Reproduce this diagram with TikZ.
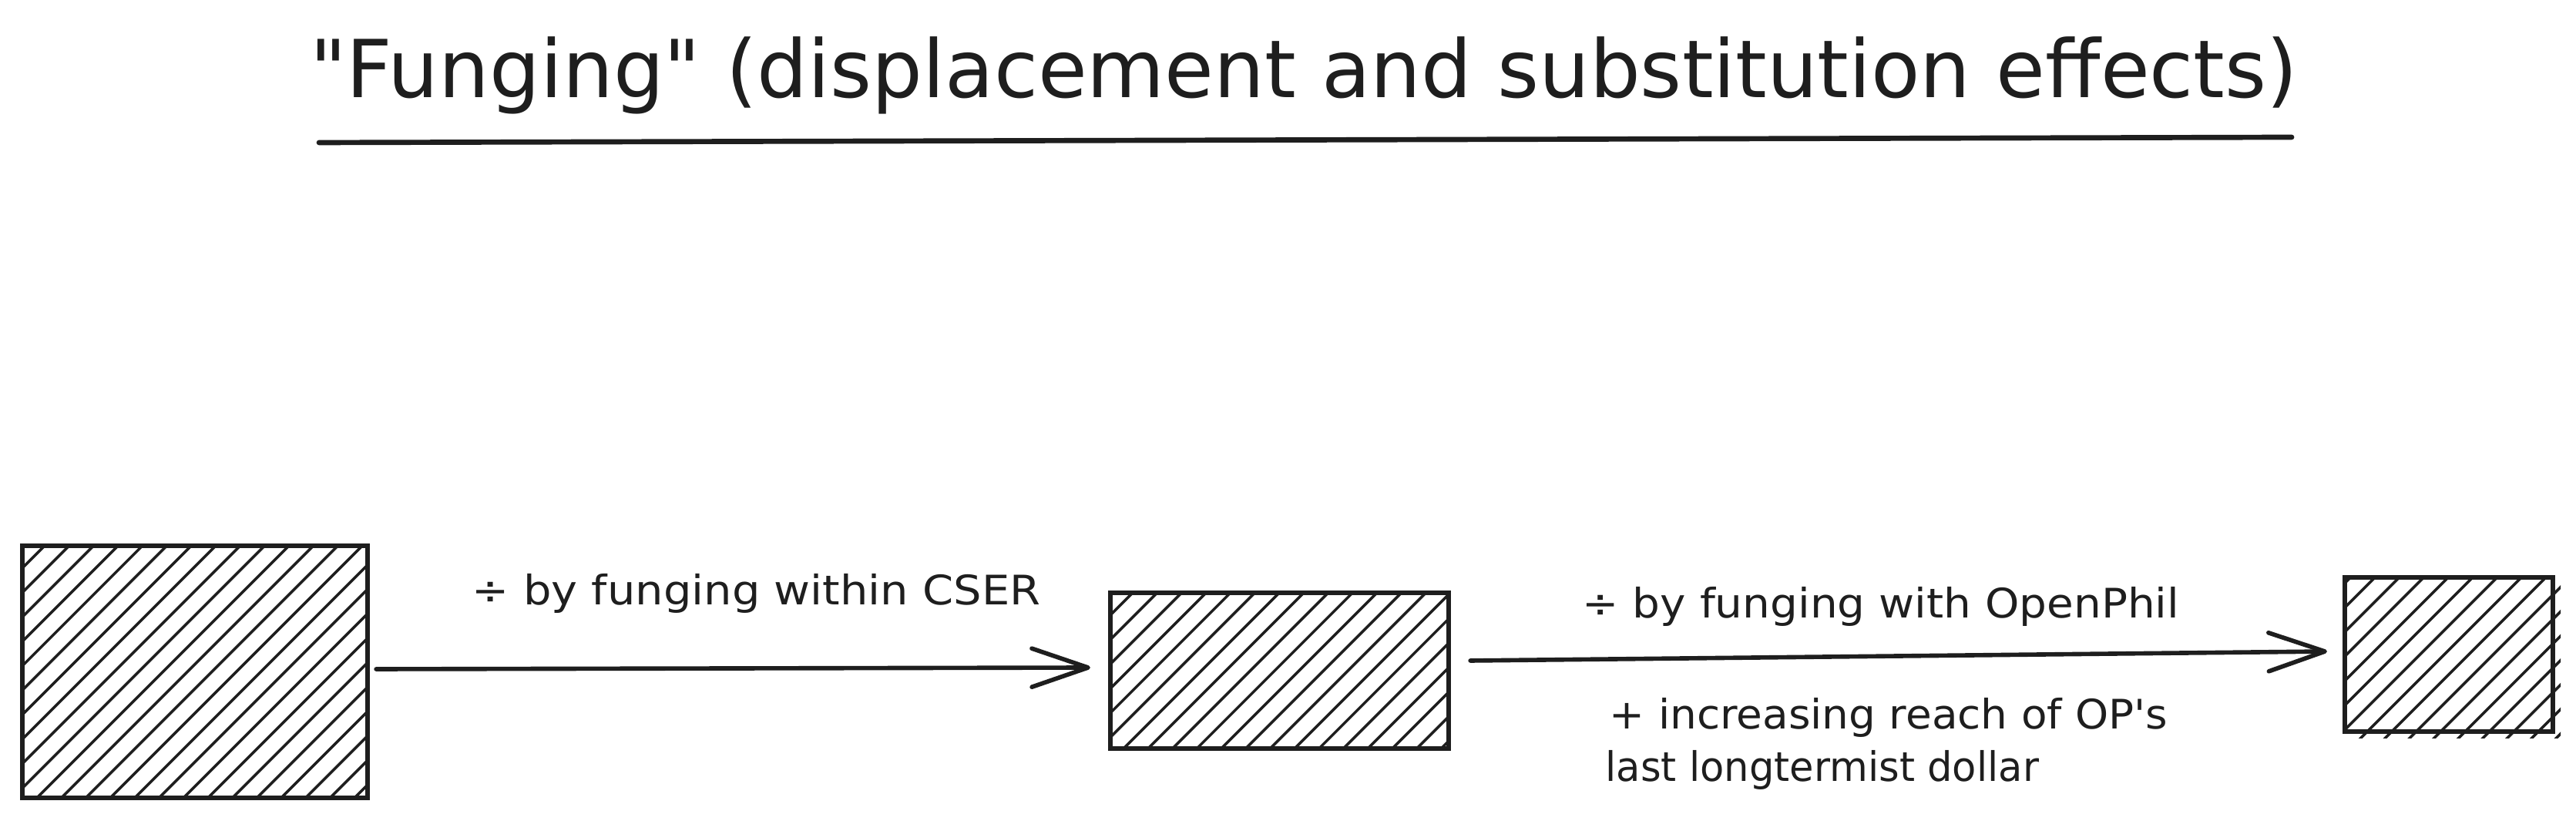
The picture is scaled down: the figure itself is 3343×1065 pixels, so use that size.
\documentclass[tikz,border=0pt]{standalone}
\usepackage{fontspec}
\setmainfont{DejaVu Sans}[Ligatures=TeXOff]
\usetikzlibrary{arrows.meta,calc}
\definecolor{ink}{HTML}{1E1E1E}
\tikzset{
  box/.style={draw=ink, line width=1.6pt, inner sep=0pt, outer sep=0pt},
  hatch/.style={draw=ink, line width=1pt},
  conn/.style={draw=ink, line width=1.6pt, line cap=round,
    -{Straight Barb[length=0.73cm,width=0.5cm,line cap=round,line join=round]}},
  rule/.style={draw=ink, line width=1.9pt, line cap=round},
  lbl/.style={text=ink, inner sep=0pt, font=\fontsize{15}{21}\selectfont},
  ttl/.style={text=ink, inner sep=0pt, font=\fontsize{29.5}{36}\selectfont},
}
\begin{document}
\begin{tikzpicture}[x=0.01cm,y=-0.01cm]
\fill[white] (0,0) rectangle (3343,1065);
\useasboundingbox (0,0) rectangle (3343,1065);

% title
\node[ttl, anchor=base] (title) at (1692,127) {"Funging" (displacement and substitution effects)};
\coordinate (u1) at (414,185);
\coordinate (u2) at (2974,178);
\draw[rule] (u1) -- (u2);

% boxes
\node[box, minimum width=4.48cm, minimum height=3.27cm] (b1) at (253,871.5) {};
\node[box, minimum width=4.39cm, minimum height=2.02cm] (b2) at (1660.5,870) {};
\node[box, minimum width=2.70cm, minimum height=2.00cm] (b3) at (3178,849) {};

% hatching
\begin{scope}
  \clip (b1.south west) rectangle (b1.north east);
  \foreach \k in {0,...,25}
    \draw[hatch] ($(b1.south west)+(\k*31.7-329.7,0)$) -- ++(360,-360);
\end{scope}
\begin{scope}
  \clip (b2.south west) rectangle (b2.north east);
  \foreach \k in {0,...,22}
    \draw[hatch] ($(b2.south west)+(\k*31.7-236.4,0)$) -- ++(230,-230);
\end{scope}
\begin{scope}
  \clip ($(b3.south west)+(0,8)$) rectangle ($(b3.north east)+(10,0)$);
  \foreach \k in {0,...,16}
    \draw[hatch] ($(b3.south west)+(\k*31.7-202.7,10)$) -- ++(230,-230);
\end{scope}
\node[box, minimum width=4.48cm, minimum height=3.27cm] at (b1) {};
\node[box, minimum width=4.39cm, minimum height=2.02cm] at (b2) {};
\node[box, minimum width=2.70cm, minimum height=2.00cm] at (b3) {};

% connectors
\draw[conn] ($(b1.east)+(11,-3.5)$) -- ($(b2.west)+(-26,-4)$);
\draw[conn] ($(b2.east)+(28,-13)$) -- ($(b3.west)+(-23,-4)$);

% labels
\node[lbl, anchor=base west] (l1) at (612,785) {\scalebox{1.09}[1]{÷ by funging within CSER}};
\node[lbl, anchor=base west] (l2) at (2053,802) {\scalebox{1.07}[1]{÷ by funging with OpenPhil}};
\node[lbl, anchor=base west] (l3) at (2088,946) {\scalebox{1.04}[1]{+ increasing reach of OP's}};
\node[lbl, anchor=base west] (l4) at (2083,1014) {\scalebox{0.97}[1]{last longtermist dollar}};
\end{tikzpicture}
\end{document}
